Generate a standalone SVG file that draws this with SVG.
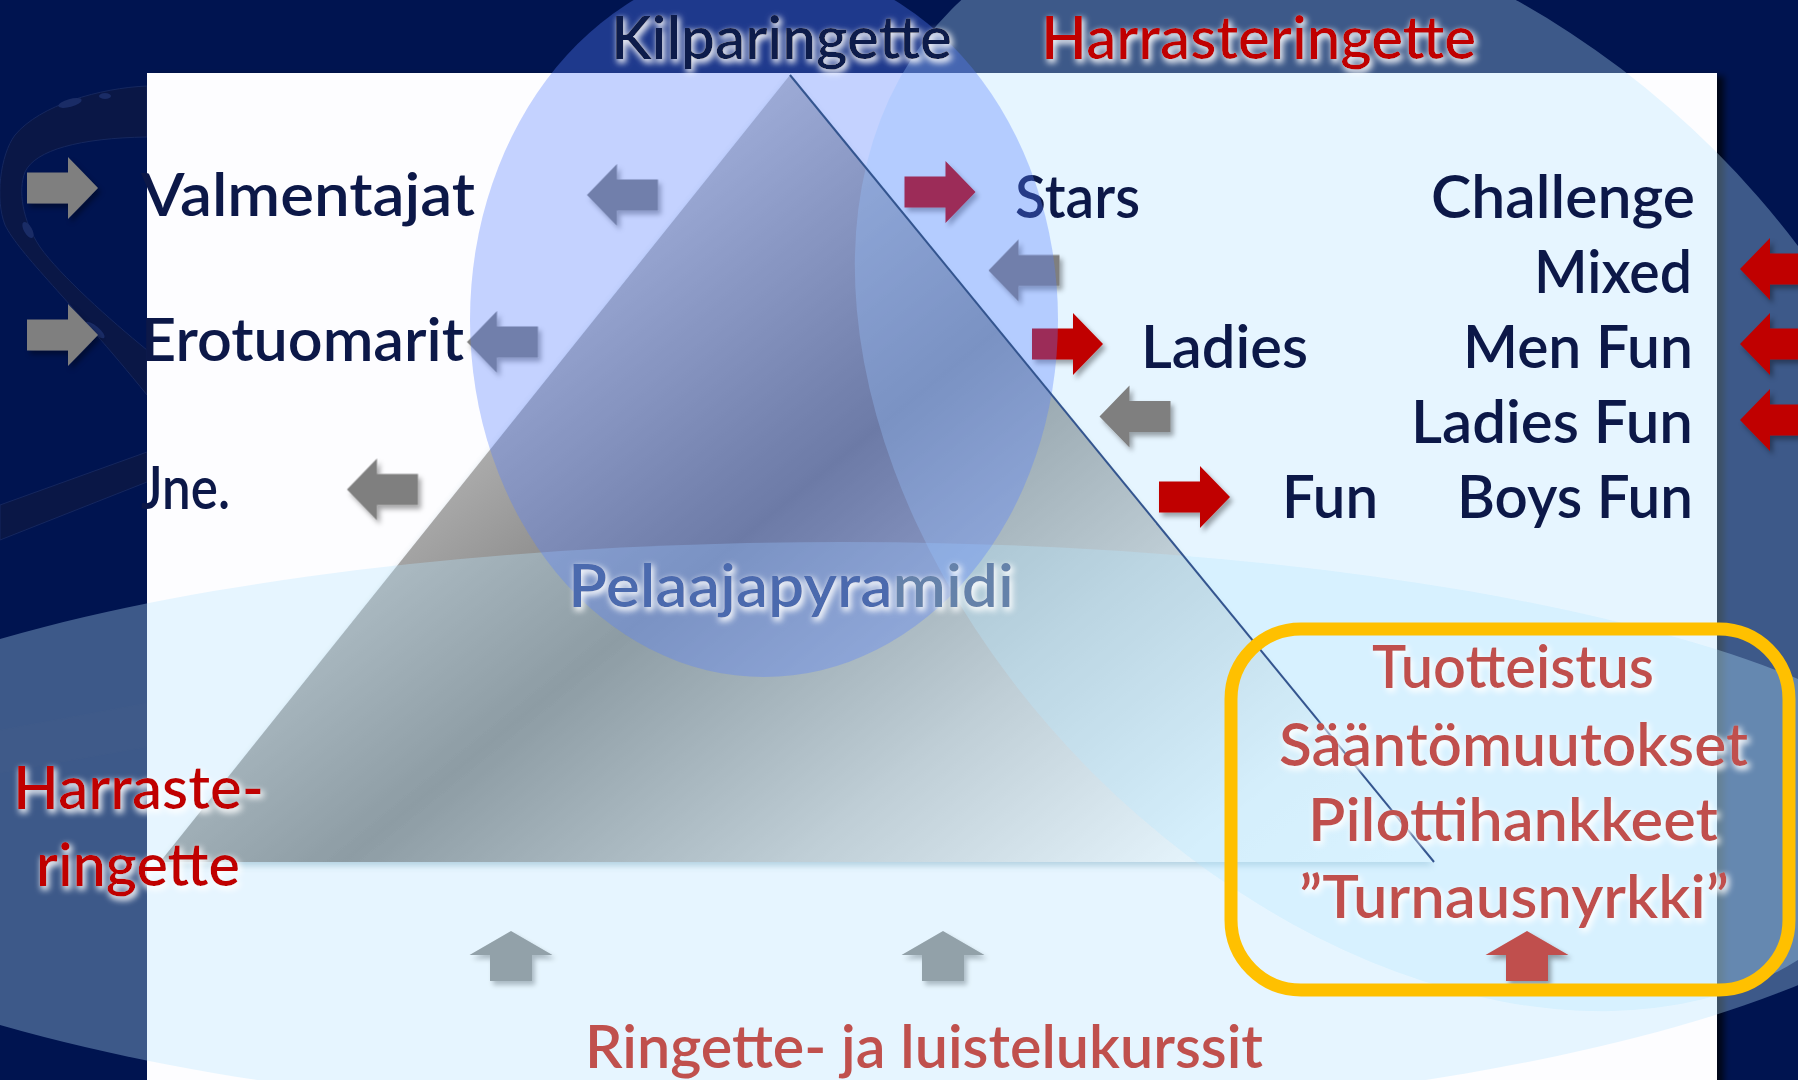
<svg xmlns="http://www.w3.org/2000/svg" width="1798" height="1080" viewBox="0 0 1798 1080">
<defs>
<style>
.t{font-family:Lato,"Noto Sans","DejaVu Sans",sans-serif;font-weight:600;font-size:60px;}
.navy{fill:#0c1848;}
.red{fill:#c00000;}
.rose{fill:#c0504d;}
.ov{fill:rgb(185,230,255);fill-opacity:0.33;}
.gray{fill:#7f7f7f;}
.stick{fill:#0a1746;stroke:#15275e;stroke-width:1;}
</style>
<linearGradient id="pyr" gradientUnits="userSpaceOnUse" x1="560" y1="150" x2="1250" y2="1000">
<stop offset="0" stop-color="#d4d4d4"/>
<stop offset="0.38" stop-color="#787878"/>
<stop offset="0.64" stop-color="#c2c2c2"/>
<stop offset="0.86" stop-color="#f8f8f8"/>
<stop offset="1" stop-color="#ffffff"/>
</linearGradient>
<filter id="glow" x="-5%" y="-40%" width="110%" height="180%">
<feMorphology in="SourceAlpha" operator="dilate" radius="1" result="d"/>
<feGaussianBlur in="d" stdDeviation="3" result="b"/>
<feOffset in="b" dx="2" dy="3" result="o"/>
<feFlood flood-color="#ffffff" flood-opacity="0.9"/>
<feComposite in2="o" operator="in" result="g"/>
<feMerge><feMergeNode in="g"/><feMergeNode in="SourceGraphic"/></feMerge>
</filter>
<filter id="sh" x="-30%" y="-30%" width="170%" height="170%">
<feDropShadow dx="3" dy="4" stdDeviation="2.5" flood-color="#000" flood-opacity="0.35"/>
</filter>
<filter id="psh" x="-5%" y="-5%" width="110%" height="110%">
<feDropShadow dx="7" dy="3" stdDeviation="3" flood-color="#000" flood-opacity="0.7"/>
</filter>
<filter id="pys" x="-5%" y="-5%" width="110%" height="110%">
<feDropShadow dx="0" dy="4" stdDeviation="3" flood-color="#5a8aa0" flood-opacity="0.45"/>
</filter>
<path id="arR" d="M-35.5,-15.5H5.5V-31L35.5,0L5.5,31V15.5H-35.5Z"/>
<path id="arU" d="M0,-25L41.5,-1H21V25H-21V-1H-41.5Z"/>
</defs>

<g id="background">
<rect x="0" y="0" width="1798" height="1080" fill="#001450"/>
<path class="stick" d="M147,86 C100,88 40,105 15,135 C0,155 -5,200 5,225 C20,255 70,300 147,395 L147,350 C110,320 60,275 40,247 C22,220 18,190 25,172 C35,150 80,138 147,137 Z"/>
<ellipse cx="70" cy="103" rx="12" ry="4" fill="#1a2c66" transform="rotate(-15 70 103)"/>
<ellipse cx="105" cy="96" rx="6" ry="3" fill="#1a2c66"/>
<ellipse cx="28" cy="230" rx="4" ry="9" fill="#1a2c66" transform="rotate(-30 28 230)"/>
<ellipse cx="95" cy="330" rx="12" ry="4" fill="#1a2c66" transform="rotate(40 95 330)"/>
<path class="stick" d="M0,505 L147,452 L147,482 L0,540 Z"/>
<path d="M0,730 L147,703 L147,747 L0,773 Z" fill="#0a1a50" fill-opacity="0.3" stroke="#0a1a50" stroke-opacity="0.35"/>
</g>

<g id="panel">
<rect x="147" y="73" width="1570" height="1020" fill="#fdfdff" filter="url(#psh)"/>
</g>

<g id="pyramid">
<polygon points="790,75 160,862 1434,862" fill="url(#pyr)" filter="url(#pys)"/>
</g>

<g id="connectors-under">
<g filter="url(#sh)">
<use href="#arU" class="gray" x="511" y="956"/>
<use href="#arU" class="gray" x="943" y="956"/>
</g>
</g>

<g id="overlays">
<ellipse class="ov" cx="1404" cy="462" rx="640" ry="440" transform="rotate(45 1404 462)"/>
<ellipse class="ov" cx="841" cy="832" rx="1127" ry="290"/>
</g>

<g id="connectors">
<g filter="url(#sh)">
<use href="#arR" class="gray" transform="translate(62.5,188)"/>
<use href="#arR" class="gray" transform="translate(62.5,335)"/>
<use href="#arR" class="gray" transform="translate(622.5,195) rotate(180)"/>
<use href="#arR" class="gray" transform="translate(502.5,342) rotate(180)"/>
<use href="#arR" class="gray" transform="translate(382.5,489.5) rotate(180)"/>
<use href="#arR" class="gray" transform="translate(1024,270.5) rotate(180)"/>
<use href="#arR" class="gray" transform="translate(1135,416.5) rotate(180)"/>
<use href="#arR" class="red" transform="translate(940,192)"/>
<use href="#arR" class="red" transform="translate(1067.5,344)"/>
<use href="#arR" class="red" transform="translate(1194.5,497)"/>
<use href="#arR" class="red" transform="translate(1775.5,269) rotate(180)"/>
<use href="#arR" class="red" transform="translate(1775.5,344) rotate(180)"/>
<use href="#arR" class="red" transform="translate(1775.5,420) rotate(180)"/>
<use href="#arU" class="rose" x="1527" y="956"/>
</g>
</g>

<g id="node-stars">
<text class="t navy" x="1015" y="218" textLength="125" lengthAdjust="spacingAndGlyphs">Stars</text>
</g>

<g id="kilparingette-circle">
<ellipse cx="764" cy="320" rx="294" ry="357" fill="rgb(87,128,255)" fill-opacity="0.345"/>
</g>

<g id="pyramid-edge">
<line x1="790" y1="75" x2="1434" y2="862" stroke="#34558f" stroke-width="2"/>
</g>

<g id="node-kilparingette">
<text class="t" fill="#0d1b4b" font-size="57" x="611" y="59" textLength="341" lengthAdjust="spacingAndGlyphs" filter="url(#glow)">Kilparingette</text>
</g>
<g id="node-harrasteringette">
<text class="t red" font-size="57" x="1041" y="59" textLength="435" lengthAdjust="spacingAndGlyphs" filter="url(#glow)">Harrasteringette</text>
</g>

<g id="node-valmentajat"><text class="t navy" x="141" y="216" textLength="334" lengthAdjust="spacingAndGlyphs">Valmentajat</text></g>
<g id="node-erotuomarit"><text class="t navy" x="141" y="361" textLength="323" lengthAdjust="spacingAndGlyphs">Erotuomarit</text></g>
<g id="node-jne"><text class="t navy" x="141" y="509" textLength="89" lengthAdjust="spacingAndGlyphs">Jne.</text></g>

<g id="node-challenge"><text class="t navy" x="1431" y="218" textLength="264" lengthAdjust="spacingAndGlyphs">Challenge</text></g>
<g id="node-mixed"><text class="t navy" x="1534" y="293" textLength="158" lengthAdjust="spacingAndGlyphs">Mixed</text></g>
<g id="node-menfun"><text class="t navy" x="1463" y="368" textLength="230" lengthAdjust="spacingAndGlyphs">Men Fun</text></g>
<g id="node-ladiesfun"><text class="t navy" x="1411" y="443" textLength="282" lengthAdjust="spacingAndGlyphs">Ladies Fun</text></g>
<g id="node-boysfun"><text class="t navy" x="1457" y="518" textLength="236" lengthAdjust="spacingAndGlyphs">Boys Fun</text></g>
<g id="node-ladies"><text class="t navy" x="1141" y="368" textLength="167" lengthAdjust="spacingAndGlyphs">Ladies</text></g>
<g id="node-fun"><text class="t navy" x="1282" y="518" textLength="96" lengthAdjust="spacingAndGlyphs">Fun</text></g>

<g id="node-pelaajapyramidi">
<text class="t" font-size="57" fill="#4b6aae" x="568" y="607" textLength="446" lengthAdjust="spacingAndGlyphs" filter="url(#glow)">Pelaajapyra<tspan fill="#6582aa">midi</tspan></text>
</g>

<g id="node-harraste-ringette" filter="url(#glow)">
<text class="t red" font-size="58" x="13" y="809" textLength="251" lengthAdjust="spacingAndGlyphs">Harraste-</text>
<text class="t red" font-size="58" x="36" y="886" textLength="204" lengthAdjust="spacingAndGlyphs">ringette</text>
</g>

<g id="node-kurssit">
<text class="t rose" x="585" y="1068" textLength="678" lengthAdjust="spacingAndGlyphs">Ringette- ja luistelukurssit</text>
</g>

<g id="node-box">
<rect x="1231" y="629" width="558" height="361" rx="70" ry="70" fill="none" stroke="#ffc000" stroke-width="13"/>
<g filter="url(#glow)">
<text class="t rose" x="1372" y="688" textLength="282" lengthAdjust="spacingAndGlyphs">Tuotteistus</text>
<text class="t rose" x="1279" y="766" textLength="469" lengthAdjust="spacingAndGlyphs">Sääntömuutokset</text>
<text class="t rose" x="1308" y="841" textLength="410" lengthAdjust="spacingAndGlyphs">Pilottihankkeet</text>
<text class="t rose" x="1299" y="918" textLength="430" lengthAdjust="spacingAndGlyphs">”Turnausnyrkki”</text>
</g>
</g>
</svg>
